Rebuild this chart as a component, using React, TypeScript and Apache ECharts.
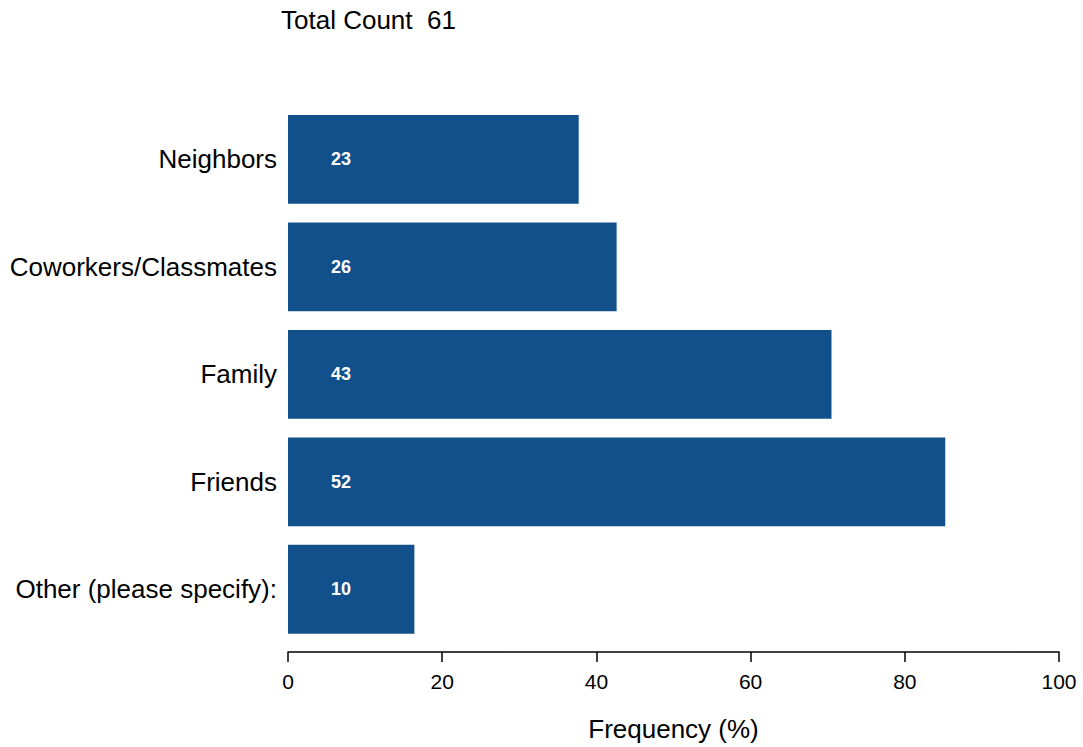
import React, { useEffect, useRef } from "react";
import * as echarts from "echarts";

const categories = ["Neighbors", "Coworkers/Classmates", "Family", "Friends", "Other (please specify):"];
const counts = [23, 26, 43, 52, 10];
const totalCount = 61;
const percentages = counts.map((c) => (c / totalCount) * 100);
const xTicks = [0, 20, 40, 60, 80, 100];

export default function App() {
  const ref = useRef<HTMLDivElement>(null);
  useEffect(() => {
    if (!ref.current) return;
    const chart = echarts.init(ref.current, undefined, { renderer: "svg" });
    const font = "'Liberation Sans', Arial, sans-serif";
    chart.setOption({
      animation: false,
      backgroundColor: "#ffffff",
      textStyle: { fontFamily: font },
      title: {
        text: "Total Count  " + totalCount,
        left: 276,
        top: 2,
        textStyle: { fontFamily: font, fontSize: 26, fontWeight: "normal", color: "#000" },
      },
      grid: { left: 288, right: 24, top: 105.6, bottom: 102.6, containLabel: false },
      xAxis: {
        type: "value",
        min: xTicks[0],
        max: xTicks[xTicks.length - 1],
        interval: 20,
        offset: 9,
        name: "Frequency (%)",
        nameLocation: "middle",
        nameGap: 64,
        nameTextStyle: { fontFamily: font, fontSize: 26, color: "#000" },
        axisLine: { show: true, lineStyle: { color: "#000", width: 1.5 } },
        axisTick: { show: true, length: 10, lineStyle: { color: "#000", width: 1.5 } },
        axisLabel: { fontFamily: font, fontSize: 21, color: "#000", margin: 19 },
        splitLine: { show: false },
      },
      yAxis: {
        type: "category",
        data: categories,
        inverse: true,
        axisLine: { show: false },
        axisTick: { show: false },
        axisLabel: { fontFamily: font, fontSize: 26, color: "#000", margin: 11 },
        splitLine: { show: false },
      },
      series: [
        {
          type: "bar",
          data: percentages,
          barCategoryGap: "17.4%",
          itemStyle: { color: "#11508B" },
          label: {
            show: true,
            position: [53, "50%"],
            align: "center",
            verticalAlign: "middle",
            formatter: (p: any) => String(counts[p.dataIndex]),
            color: "#fff",
            fontWeight: "bold",
            fontSize: 18,
            fontFamily: font,
          },
        },
      ],
    });
    return () => chart.dispose();
  }, []);
  return <div ref={ref} style={{ position: "fixed", left: 0, top: 0, width: 1083, height: 747 }} />;
}
